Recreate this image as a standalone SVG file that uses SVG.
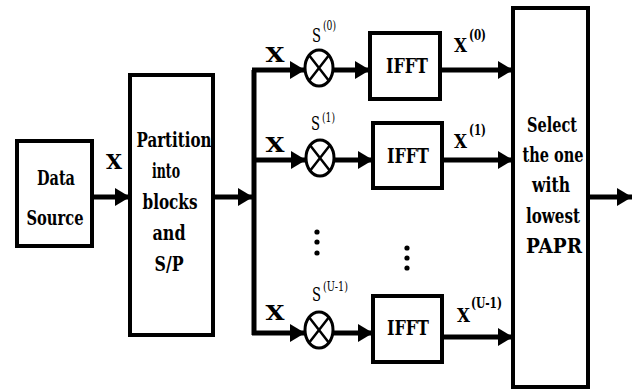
<svg xmlns="http://www.w3.org/2000/svg" width="638" height="389" viewBox="0 0 638 389">
<defs>
<style>
.box{fill:#fff;stroke:#000;stroke-width:4}
.mix{fill:#fff;stroke:#000;stroke-width:3}
.cross{stroke:#000;stroke-width:2.5}
.wire{fill:none;stroke:#000;stroke-width:5}
.arr{fill:none;stroke:#000;stroke-width:5;marker-end:url(#ah)}
text{font-family:'DejaVu Serif',serif;fill:#000}
.t{font-weight:bold;font-size:20px;text-anchor:middle}
.lx{font-weight:bold;font-size:20px;text-anchor:middle}
.s{font-size:18px}
.ss{font-size:12px}
.xo{font-weight:bold;font-size:18px}
.xs{font-weight:bold;font-size:14px}
</style>
<marker id="ah" markerUnits="userSpaceOnUse" markerWidth="15" markerHeight="18" refX="15" refY="9" orient="auto">
<path d="M0,0 L15,9 L0,18 Z" fill="#000"/>
</marker>
</defs>
<rect width="638" height="389" fill="#fff"/>

<g id="connectors">
<path class="arr" d="M93,197 H130"/>
<path class="arr" d="M213,197 H253"/>
<path class="wire" d="M254,70 V335"/>
<path class="arr" d="M252,70 H305"/>
<path class="arr" d="M252,160 H306"/>
<path class="arr" d="M252,333 H305"/>
<path class="arr" d="M333,70 H370"/>
<path class="arr" d="M334,160 H373"/>
<path class="arr" d="M333,333 H373"/>
<path class="arr" d="M440,70 H513"/>
<path class="arr" d="M442,160 H513"/>
<path class="arr" d="M442,337 H513"/>
<path class="arr" d="M588,197 H632"/>
</g>

<g id="data-source">
<rect class="box" x="17" y="141" width="75" height="105"/>
<text class="t" x="56" y="185" textLength="38" lengthAdjust="spacingAndGlyphs">Data</text>
<text class="t" x="55" y="225" textLength="57" lengthAdjust="spacingAndGlyphs">Source</text>
</g>

<g id="label-x-in">
<text class="lx" x="114" y="169" textLength="16" lengthAdjust="spacingAndGlyphs">X</text>
</g>

<g id="partition">
<rect class="box" x="130" y="75" width="83" height="260"/>
<text class="t" x="174" y="147" textLength="75" lengthAdjust="spacingAndGlyphs">Partition</text>
<text class="t" x="166" y="178" textLength="28" lengthAdjust="spacingAndGlyphs">into</text>
<text class="t" x="170" y="209" textLength="55" lengthAdjust="spacingAndGlyphs">blocks</text>
<text class="t" x="169" y="240" textLength="33" lengthAdjust="spacingAndGlyphs">and</text>
<text class="t" x="169" y="271" textLength="29" lengthAdjust="spacingAndGlyphs">S/P</text>
</g>

<g id="branch-0">
<text class="lx" x="275" y="62" textLength="19" lengthAdjust="spacingAndGlyphs">X</text>
<ellipse class="mix" cx="319" cy="68" rx="14" ry="18"/>
<path class="cross" d="M309.1,55.3 L328.9,80.7 M328.9,55.3 L309.1,80.7"/>
<text class="s" x="312" y="42" textLength="9" lengthAdjust="spacingAndGlyphs">S</text>
<text class="ss" x="323" y="30" textLength="13" lengthAdjust="spacingAndGlyphs">(0)</text>
</g>
<g id="ifft-0">
<rect class="box" x="370" y="33" width="70" height="66"/>
<text class="t" x="407" y="73" textLength="42" lengthAdjust="spacingAndGlyphs">IFFT</text>
<text class="xo" x="454" y="52" textLength="13" lengthAdjust="spacingAndGlyphs">X</text>
<text class="xs" x="469" y="40" textLength="17" lengthAdjust="spacingAndGlyphs">(0)</text>
</g>

<g id="branch-1">
<text class="lx" x="275" y="152" textLength="19" lengthAdjust="spacingAndGlyphs">X</text>
<ellipse class="mix" cx="320" cy="158" rx="14" ry="18"/>
<path class="cross" d="M310.1,145.3 L329.9,170.7 M329.9,145.3 L310.1,170.7"/>
<text class="s" x="311" y="130" textLength="9" lengthAdjust="spacingAndGlyphs">S</text>
<text class="ss" x="322" y="122" textLength="13" lengthAdjust="spacingAndGlyphs">(1)</text>
</g>
<g id="ifft-1">
<rect class="box" x="373" y="123" width="69" height="65"/>
<text class="t" x="408" y="163" textLength="42" lengthAdjust="spacingAndGlyphs">IFFT</text>
<text class="xo" x="454" y="148" textLength="13" lengthAdjust="spacingAndGlyphs">X</text>
<text class="xs" x="469" y="135" textLength="17" lengthAdjust="spacingAndGlyphs">(1)</text>
</g>

<g id="dots">
<circle cx="317" cy="232" r="2.6"/>
<circle cx="317" cy="242" r="2.6"/>
<circle cx="317" cy="253" r="2.6"/>
<circle cx="407" cy="248" r="2.6"/>
<circle cx="407" cy="258" r="2.6"/>
<circle cx="407" cy="268" r="2.6"/>
</g>

<g id="branch-u1">
<text class="lx" x="275" y="320" textLength="19" lengthAdjust="spacingAndGlyphs">X</text>
<ellipse class="mix" cx="319" cy="330" rx="14" ry="18"/>
<path class="cross" d="M309.1,317.3 L328.9,342.7 M328.9,317.3 L309.1,342.7"/>
<text class="s" x="312" y="301" textLength="9" lengthAdjust="spacingAndGlyphs">S</text>
<text class="ss" x="323" y="291" textLength="25" lengthAdjust="spacingAndGlyphs">(U-1)</text>
</g>
<g id="ifft-u1">
<rect class="box" x="373" y="296" width="69" height="66"/>
<text class="t" x="408" y="335" textLength="42" lengthAdjust="spacingAndGlyphs">IFFT</text>
<text class="xo" x="457" y="322" textLength="13" lengthAdjust="spacingAndGlyphs">X</text>
<text class="xs" x="471" y="308" textLength="31" lengthAdjust="spacingAndGlyphs">(U-1)</text>
</g>

<g id="select">
<rect class="box" x="513" y="8" width="75" height="379"/>
<text class="t" x="552" y="132" textLength="50" lengthAdjust="spacingAndGlyphs">Select</text>
<text class="t" x="553" y="162" textLength="61" lengthAdjust="spacingAndGlyphs">the one</text>
<text class="t" x="551" y="192" textLength="38" lengthAdjust="spacingAndGlyphs">with</text>
<text class="t" x="553" y="223" textLength="54" lengthAdjust="spacingAndGlyphs">lowest</text>
<text class="t" x="554" y="253" textLength="56" lengthAdjust="spacingAndGlyphs">PAPR</text>
</g>
</svg>
